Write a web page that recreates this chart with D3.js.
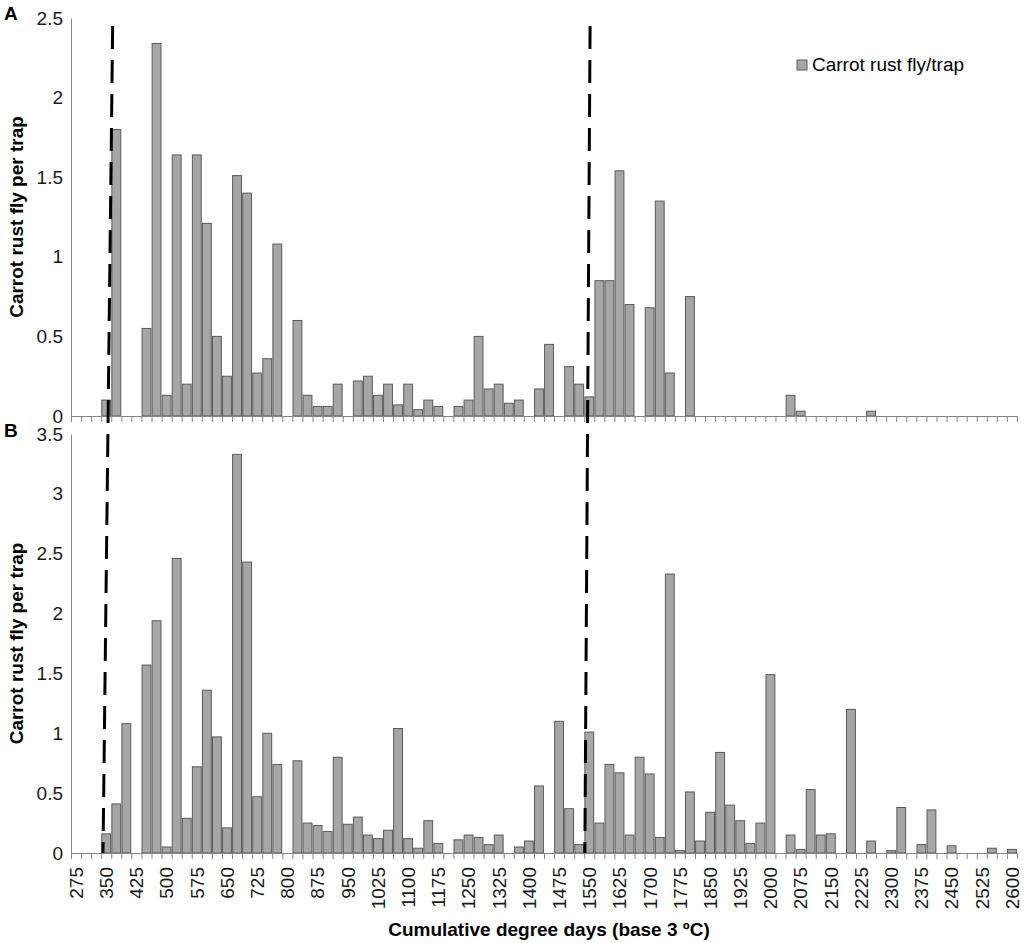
<!DOCTYPE html>
<html>
<head>
<meta charset="utf-8">
<script src="https://cdn.jsdelivr.net/npm/d3@7"></script>
<style>
  body { margin: 0; background: #fff; }
  text { font-family: "Liberation Sans", Arial, sans-serif; }
</style>
</head>
<body>
<div id="chart"></div>
<script>
// Cumulative degree days (categories, step 25)
const degreeDays = [275, 300, 325, 350, 375, 400, 425, 450, 475, 500, 525, 550, 575, 600, 625, 650, 675, 700,
  725, 750, 775, 800, 825, 850, 875, 900, 925, 950, 975, 1000, 1025, 1050, 1075, 1100, 1125, 1150, 1175, 1200,
  1225, 1250, 1275, 1300, 1325, 1350, 1375, 1400, 1425, 1450, 1475, 1500, 1525, 1550, 1575, 1600, 1625, 1650,
  1675, 1700, 1725, 1750, 1775, 1800, 1825, 1850, 1875, 1900, 1925, 1950, 1975, 2000, 2025, 2050, 2075, 2100,
  2125, 2150, 2175, 2200, 2225, 2250, 2275, 2300, 2325, 2350, 2375, 2400, 2425, 2450, 2475, 2500, 2525, 2550,
  2575, 2600];

// Panel A: carrot rust fly per trap
const fliesA = [0, 0, 0, 0.1, 1.8, 0, 0, 0.55, 2.34, 0.13, 1.64, 0.2, 1.64, 1.21, 0.5, 0.25, 1.51, 1.4,
  0.27, 0.36, 1.08, 0, 0.6, 0.13, 0.06, 0.06, 0.2, 0, 0.22, 0.25, 0.13, 0.2, 0.07, 0.2, 0.04, 0.1, 0.06, 0,
  0.06, 0.1, 0.5, 0.17, 0.2, 0.08, 0.1, 0, 0.17, 0.45, 0, 0.31, 0.2, 0.12, 0.85, 0.85, 1.54, 0.7,
  0, 0.68, 1.35, 0.27, 0, 0.75, 0, 0, 0, 0, 0, 0, 0, 0, 0, 0.13, 0.03, 0,
  0, 0, 0, 0, 0, 0.03, 0, 0, 0, 0, 0, 0, 0, 0, 0, 0, 0, 0,
  0, 0];

// Panel B: carrot rust fly per trap
const fliesB = [0, 0, 0, 0.16, 0.41, 1.08, 0, 1.57, 1.94, 0.05, 2.46, 0.29, 0.72, 1.36, 0.97, 0.21, 3.33, 2.43,
  0.47, 1.0, 0.74, 0, 0.77, 0.25, 0.23, 0.18, 0.8, 0.24, 0.3, 0.15, 0.12, 0.19, 1.04, 0.12, 0.04, 0.27, 0.08, 0,
  0.11, 0.15, 0.13, 0.07, 0.15, 0, 0.05, 0.1, 0.56, 0, 1.1, 0.37, 0.07, 1.01, 0.25, 0.74, 0.67, 0.15,
  0.8, 0.66, 0.13, 2.33, 0.02, 0.51, 0.1, 0.34, 0.84, 0.4, 0.27, 0.08, 0.25, 1.49, 0, 0.15, 0.03, 0.53,
  0.15, 0.16, 0, 1.2, 0, 0.1, 0, 0.02, 0.38, 0, 0.07, 0.36, 0, 0.06, 0, 0, 0, 0.04,
  0, 0.03];

// tick labels
const xTickLabels = [275, 350, 425, 500, 575, 650, 725, 800, 875, 950, 1025, 1100, 1175, 1250, 1325, 1400,
  1475, 1550, 1625, 1700, 1775, 1850, 1925, 2000, 2075, 2150, 2225, 2300, 2375, 2450, 2525, 2600];
const yTicksA = [0, 0.5, 1, 1.5, 2, 2.5];
const yTicksB = [0, 0.5, 1, 1.5, 2, 2.5, 3, 3.5];

// dashed threshold lines (degree days at top of A and at bottom of B)
const thresholdTop = [366, 1552];
const thresholdBottom = [342, 1539];

const seriesName = "Carrot rust fly/trap";
const yTitle = "Carrot rust fly per trap";
const xTitle = "Cumulative degree days (base 3 ºC)";

const W = 1025, H = 943;
const barFill = "#a6a6a6", barStroke = "#5a5a5a", axisColor = "#868686";

const svg = d3.select("#chart")
  .append("svg")
  .attr("width", W)
  .attr("height", H);

const x = d3.scaleBand()
  .domain(degreeDays)
  .range([71, 1017])
  .paddingInner(0.12)
  .paddingOuter(0.06);

// boundaries between categories, for the tick marks
const xEdge = d3.scaleLinear()
  .domain([0, degreeDays.length])
  .range(x.range());

// degree days -> pixel (through category centres)
const xDD = d3.scaleLinear()
  .domain([degreeDays[0], degreeDays[degreeDays.length - 1]])
  .range([x(degreeDays[0]) + x.bandwidth() / 2, x(degreeDays[degreeDays.length - 1]) + x.bandwidth() / 2]);

const yA = d3.scaleLinear().domain([0, 2.5]).range([416, 18]);
const yB = d3.scaleLinear().domain([0, 3.5]).range([853, 434]);

function drawPanel(values, y, yTicks, letter, letterY, showLabels) {
  const g = svg.append("g");

  // bars
  g.selectAll("rect.bar")
    .data(values.map((v, i) => ({dd: degreeDays[i], v: v})).filter(d => d.v > 0))
    .enter()
    .append("rect")
    .attr("class", "bar")
    .attr("x", d => x(d.dd))
    .attr("y", d => y(d.v))
    .attr("width", x.bandwidth())
    .attr("height", d => y(0) - y(d.v))
    .attr("fill", barFill)
    .attr("stroke", barStroke)
    .attr("stroke-width", 1);

  // y axis (line + labels, no ticks)
  const yAxis = g.append("g")
    .attr("transform", `translate(${x.range()[0]},0)`)
    .call(d3.axisLeft(y).tickValues(yTicks).tickSize(0).tickPadding(8).tickFormat(d3.format("")));
  yAxis.select(".domain").attr("stroke", axisColor);
  yAxis.selectAll("text")
    .style("font-family", "'Liberation Sans', Arial, sans-serif")
    .style("font-size", "19px")
    .attr("fill", "#1a1a1a");

  // x axis: tick marks at category boundaries
  const xAxis = g.append("g")
    .attr("transform", `translate(0,${y(0)})`)
    .call(d3.axisBottom(xEdge).tickValues(d3.range(degreeDays.length + 1)).tickSize(6).tickSizeOuter(0).tickFormat(""));
  xAxis.select(".domain").attr("stroke", axisColor);
  xAxis.selectAll(".tick line").attr("stroke", axisColor);

  if (showLabels) {
    const lab = g.append("g")
      .attr("transform", `translate(0,${y(0)})`)
      .call(d3.axisBottom(x).tickValues(xTickLabels).tickSize(0));
    lab.select(".domain").remove();
    lab.selectAll("text")
      .attr("transform", "rotate(-90)")
      .attr("x", -14)
      .attr("y", 0)
      .attr("dy", "0.36em")
      .style("text-anchor", "end")
      .style("font-family", "'Liberation Sans', Arial, sans-serif")
      .style("font-size", "19px")
      .attr("fill", "#1a1a1a");
  }

  // y axis title
  const [y0, y1] = y.range();
  svg.append("text")
    .attr("transform", `translate(23,${(y0 + y1) / 2}) rotate(-90)`)
    .attr("text-anchor", "middle")
    .style("font-size", "19px")
    .style("font-weight", "bold")
    .text(yTitle);

  // panel letter
  svg.append("text")
    .attr("x", 4)
    .attr("y", letterY)
    .style("font-size", "19px")
    .style("font-weight", "bold")
    .text(letter);
}

drawPanel(fliesA, yA, yTicksA, "A", 20, false);
drawPanel(fliesB, yB, yTicksB, "B", 437, true);

// legend (panel A)
const legend = svg.append("g").attr("transform", "translate(797,60)");
legend.append("rect")
  .attr("width", 10)
  .attr("height", 10)
  .attr("fill", barFill)
  .attr("stroke", barStroke);
legend.append("text")
  .attr("x", 15)
  .attr("y", 11)
  .style("font-size", "19px")
  .text(seriesName);

// x axis title
svg.append("text")
  .attr("x", 549)
  .attr("y", 936)
  .attr("text-anchor", "middle")
  .style("font-size", "19px")
  .style("font-weight", "bold")
  .text(xTitle);

// dashed lines through both panels
svg.selectAll("line.threshold")
  .data(thresholdTop.map((t, i) => ({top: t, bottom: thresholdBottom[i]})))
  .enter()
  .append("line")
  .attr("class", "threshold")
  .attr("x1", d => xDD(d.top))
  .attr("y1", yA(2.45))
  .attr("x2", d => xDD(d.bottom))
  .attr("y2", yB(0))
  .attr("stroke", "#000")
  .attr("stroke-width", 3)
  .attr("stroke-dasharray", "23 11");
</script>
</body>
</html>
